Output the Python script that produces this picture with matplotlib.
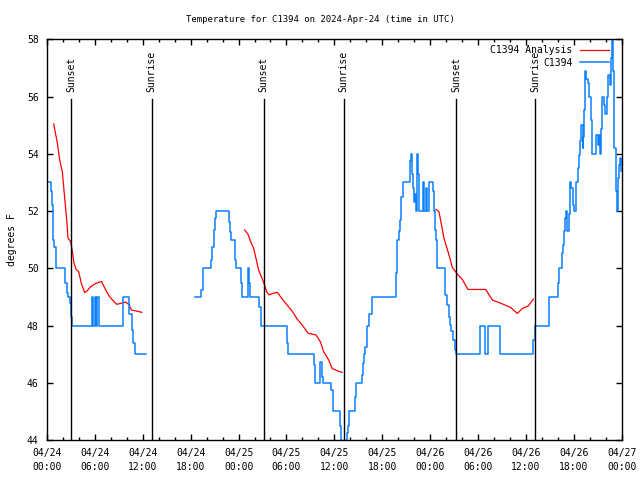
import matplotlib
matplotlib.use("Agg")
import matplotlib.pyplot as plt

# hours since 2024-04-24 00:00 UTC
# observed temperature (change points, drawn as steps)
obs_a_hours = [0.13, 0.50, 0.59, 0.71, 0.79, 0.92, 1.13, 2.30, 2.47, 2.63, 2.89, 3.05, 3.18,
               5.69, 5.81, 6.02, 6.15, 6.32, 6.48, 9.55, 10.33, 10.62, 10.80, 11.00, 12.38]
obs_a_temps = [53.0, 52.7, 52.2, 51.5, 51.0, 50.75, 50.0, 49.5, 49.15, 49.0, 48.8, 48.3, 48.0,
               49.0, 48.0, 49.0, 48.0, 49.0, 48.0, 49.0, 48.4, 47.85, 47.4, 47.0, 47.0]

obs_b_hours = [18.48, 19.28, 19.49, 20.54, 20.66, 20.87, 20.99, 21.12, 22.75, 22.96, 23.05, 23.50,
               23.71, 24.25, 24.43, 25.13, 25.26, 25.47, 26.60, 26.85, 30.07, 30.20, 33.41, 33.63,
               34.17, 34.46, 34.63, 35.63, 35.80, 35.88, 36.76, 36.89, 37.00, 37.60, 37.73, 37.89,
               38.56, 38.68, 39.48, 39.61, 39.74, 39.90, 40.03, 40.15, 40.40, 40.70,
               43.75, 43.87, 44.04, 44.20, 44.38, 44.58, 45.46, 45.55, 45.72, 45.84, 45.96, 46.10,
               46.21, 46.38, 46.50, 46.63, 47.05, 47.26, 47.43, 47.55, 47.89, 48.31, 48.47, 48.56,
               48.73, 48.85, 49.81, 50.15, 50.31, 50.44, 50.60, 50.90, 51.10, 51.23, 54.25, 54.85,
               55.20, 56.70, 60.94, 61.14, 62.85, 64.03, 64.20, 64.53, 64.66, 64.78, 64.95, 65.08,
               65.20, 65.35, 65.50, 65.70, 65.87, 66.04, 66.33, 66.53, 66.62, 66.79, 66.88, 67.09,
               67.17, 67.29, 67.42, 67.59, 67.72, 67.92, 68.13, 68.26, 68.76, 68.97, 69.13, 69.26,
               69.39, 69.51, 69.72, 69.92, 70.14, 70.30, 70.48, 70.64, 70.77, 70.89, 71.06, 71.23,
               71.36, 71.48, 71.61, 71.73, 71.90]
obs_b_temps = [49.0, 49.24, 50.0, 50.29, 50.75, 51.34, 51.75, 52.0, 51.6, 51.28, 51.0, 50.29,
               50.0, 49.47, 49.0, 50.0, 49.5, 49.0, 48.66, 48.0, 47.38, 47.0, 46.62, 46.0,
               46.73, 46.2, 46.0, 45.75, 45.4, 45.0, 44.49, 44.0, 43.5, 44.23, 44.49, 45.0,
               45.51, 46.0, 46.27, 46.68, 47.0, 47.26, 47.73, 48.0, 48.4, 49.0,
               49.82, 51.0, 51.3, 51.69, 52.48, 53.0, 53.75, 54.0, 53.3, 52.8, 52.3, 52.6,
               52.0, 54.0, 53.3, 52.0, 53.0, 52.0, 52.8, 52.0, 53.0, 52.7, 52.0, 51.35,
               51.0, 50.0, 49.06, 48.7, 48.31, 48.02, 47.8, 47.49, 47.14, 47.0, 48.0, 47.0,
               48.0, 47.0, 47.5, 48.0, 49.0, 49.5, 50.0, 50.53, 50.82, 51.31, 51.75, 52.0,
               51.3, 51.9, 53.0, 52.8, 52.22, 52.0, 53.0, 53.5, 53.97, 54.44, 55.02, 54.2,
               54.6, 55.54, 56.88, 56.6, 56.47, 56.0, 55.19, 54.0, 54.67, 54.3, 54.67, 54.0,
               54.85, 56.0, 55.71, 55.4, 56.0, 56.76, 56.4, 57.35, 58.3, 56.9, 54.2, 52.69,
               52.0, 53.15, 53.62, 53.85, 53.39]

# analysis temperature
ana_a_hours = [0.84, 1.30, 1.59, 1.92, 2.22, 2.47, 2.63, 2.97, 3.18, 3.39, 3.64, 3.97, 4.30, 4.72,
               5.06, 5.48, 6.11, 6.82, 7.36, 7.86, 8.41, 8.74, 9.32, 9.87, 10.29, 10.58, 11.13, 11.88]
ana_a_temps = [55.04, 54.37, 53.78, 53.37, 52.44, 51.69, 51.05, 50.93, 50.58, 50.17, 49.96, 49.88,
               49.47, 49.15, 49.22, 49.36, 49.47, 49.54, 49.24, 49.0, 48.83, 48.74, 48.78, 48.82,
               48.72, 48.54, 48.51, 48.46]

ana_b_hours = [24.76, 25.18, 25.51, 25.89, 26.18, 26.51, 26.85, 27.19, 27.52, 27.82, 28.27, 28.86,
               29.45, 30.07, 30.70, 31.33, 31.96, 32.71, 33.71, 34.25, 34.67, 35.30, 35.72, 36.35,
               36.97]
ana_b_temps = [51.34, 51.19, 50.93, 50.70, 50.35, 49.94, 49.71, 49.47, 49.18, 49.07, 49.12, 49.16,
               48.93, 48.72, 48.51, 48.23, 48.02, 47.73, 47.67, 47.43, 47.08, 46.79, 46.50, 46.42,
               46.36]

ana_c_hours = [48.73, 49.10, 49.39, 49.73, 50.06, 50.48, 50.77, 51.19, 51.61, 52.03, 52.74, 54.96,
               55.80, 56.84, 58.09, 58.93, 59.56, 60.27, 60.94]
ana_c_temps = [52.06, 51.98, 51.57, 51.05, 50.75, 50.35, 50.03, 49.88, 49.73, 49.61, 49.26, 49.26,
               48.89, 48.78, 48.63, 48.42, 48.60, 48.68, 48.92]

# sunrise / sunset markers
sun_hours = [3.05, 13.13, 27.14, 37.18, 51.23, 61.14]
sun_labels = ['Sunset', 'Sunrise', 'Sunset', 'Sunrise', 'Sunset', 'Sunrise']

tick_hours = [0, 6, 12, 18, 24, 30, 36, 42, 48, 54, 60, 66, 72]
tick_labels = ['04/24\n00:00', '04/24\n06:00', '04/24\n12:00', '04/24\n18:00',
               '04/25\n00:00', '04/25\n06:00', '04/25\n12:00', '04/25\n18:00',
               '04/26\n00:00', '04/26\n06:00', '04/26\n12:00', '04/26\n18:00',
               '04/27\n00:00']

FS = 7
plt.rcParams['font.family'] = ['DejaVu Sans Mono']
plt.rcParams['font.size'] = FS

fig = plt.figure(figsize=(6.4, 4.8), dpi=100)
ax = fig.add_axes([47 / 640, 40 / 480, 574.7 / 640, 400.7 / 480])

RED = '#ff0000'
BLUE = '#0a80ff'

ax.plot(ana_a_hours, ana_a_temps, color=RED, lw=0.9, label='C1394 Analysis')
ax.plot(ana_b_hours, ana_b_temps, color=RED, lw=0.9)
ax.plot(ana_c_hours, ana_c_temps, color=RED, lw=0.9)
ax.plot(obs_a_hours, obs_a_temps, color=BLUE, lw=1.1, drawstyle='steps-post', label='C1394')
ax.plot(obs_b_hours, obs_b_temps, color=BLUE, lw=1.1, drawstyle='steps-post')

for h, lab in zip(sun_hours, sun_labels):
    ax.plot([h, h], [44, 55.9], color='black', lw=1)
    ax.text(h, 56.15, lab, rotation=90, ha='center', va='bottom', fontsize=FS)

ax.set_xlim(0, 72)
ax.set_ylim(44, 58)
ax.set_xticks(tick_hours)
ax.set_xticklabels(tick_labels, linespacing=1.5)
ax.set_xticks(range(0, 73, 2), minor=True)
ax.set_yticks(range(44, 59, 2))
ax.tick_params(which='both', direction='in', top=True, right=True, width=1, color='black')
ax.tick_params(which='major', length=4.5, pad=6)
ax.tick_params(which='minor', length=2.5)
for s in ax.spines.values():
    s.set_linewidth(1)

ax.set_ylabel('degrees F', fontsize=FS, labelpad=7)
fig.text(0.5, 1 - 20 / 480, 'Temperature for C1394 on 2024-Apr-24 (time in UTC)',
         ha='center', va='center', fontsize=6.5)

leg = ax.legend(loc='upper right', bbox_to_anchor=(0.982, 0.99), frameon=False,
                markerfirst=False, fontsize=FS, handlelength=3.0, handletextpad=0.8,
                labelspacing=0.25, borderaxespad=0, borderpad=0.2)

fig.savefig('out.png', dpi=100)
